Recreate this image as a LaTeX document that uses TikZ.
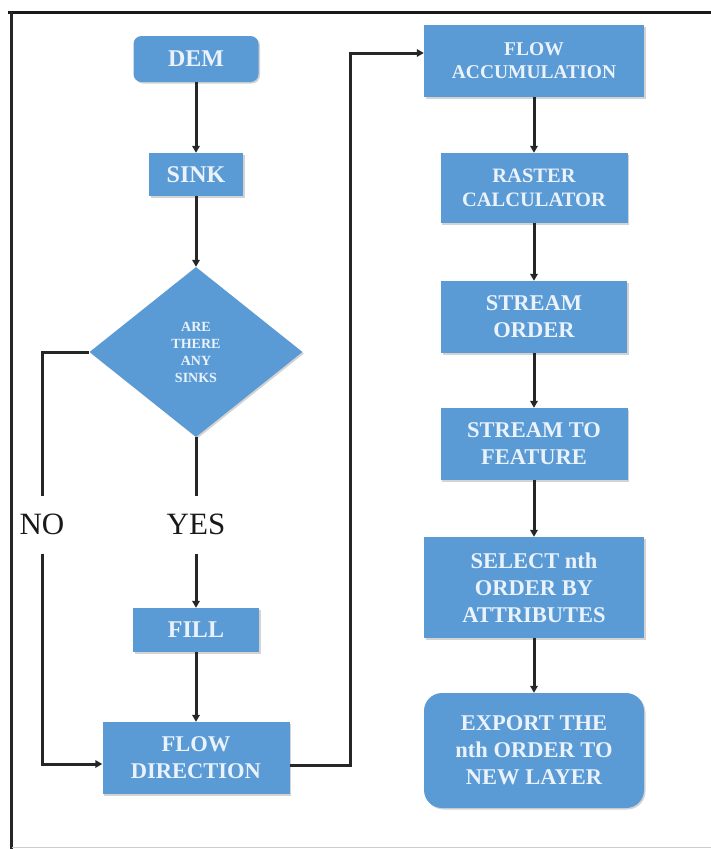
\documentclass[tikz,border=0pt]{standalone}
\usepackage{fontspec}
\setmainfont{Liberation Serif}
\usetikzlibrary{arrows.meta, shapes.geometric, shadows}
\definecolor{boxblue}{HTML}{5B9BD5}
\definecolor{boxtext}{HTML}{EAF2FB}
\tikzset{
  proc/.style={fill=boxblue, text=boxtext, align=center, inner sep=0pt,
    font=\bfseries\fontsize{22.5}{27}\selectfont,
    drop shadow={opacity=0.35, shadow xshift=1.5pt, shadow yshift=-1.5pt}},
  bigword/.style={font=\bfseries\fontsize{24}{28}\selectfont},
  decision/.style={proc, diamond, font=\bfseries\fontsize{14}{17}\selectfont},
  arrowline/.style={-{Triangle[length=7pt, width=7.5pt]}, line width=3pt, color=black!85},
  plainline/.style={line width=3pt, color=black!85},
  answer/.style={font=\fontsize{31}{34}\selectfont, text=black!90, inner sep=0pt}
}
\begin{document}
\begin{tikzpicture}[x=1pt, y=-1pt]
\useasboundingbox (0,0) rectangle (711,849);
% frame
\draw[line width=3pt, black!90] (8,12) -- (711,12);
\draw[line width=2.5pt, black!85] (11.5,12) -- (11.5,849);
\draw[line width=1.5pt, black!20] (11.5,847.5) -- (711,847.5);
% left column
\node[proc, bigword, rounded corners=8pt, minimum width=125pt, minimum height=46pt] (dem) at (196,59) {DEM};
\node[proc, bigword, minimum width=94pt, minimum height=43pt] (sink) at (196,174.5) {SINK};
\node[decision, minimum width=213pt, minimum height=170pt] (check) at (196,352) {ARE\\THERE\\ANY\\SINKS};
\node[answer] (no) at (42,524) {NO};
\node[answer] (yes) at (196,524) {YES};
\node[proc, bigword, minimum width=126pt, minimum height=44pt] (fill) at (196,630) {FILL};
\node[proc, minimum width=187pt, minimum height=72pt] (flowdir) at (196,758) {FLOW\\DIRECTION};
% right column
\node[proc, minimum width=220pt, minimum height=72pt, font=\bfseries\fontsize{19.5}{23}\selectfont] (flowacc) at (534,61) {FLOW\\ACCUMULATION};
\node[proc, minimum width=187pt, minimum height=70pt, font=\bfseries\fontsize{20.5}{23.5}\selectfont] (raster) at (534,188) {RASTER\\CALCULATOR};
\node[proc, minimum width=186pt, minimum height=72pt] (order) at (534,317) {STREAM\\ORDER};
\node[proc, minimum width=187pt, minimum height=72pt] (tofeat) at (534,444) {STREAM TO\\FEATURE};
\node[proc, minimum width=220pt, minimum height=101pt] (select) at (534,587.5) {SELECT nth\\ORDER BY\\ATTRIBUTES};
\node[proc, rounded corners=18pt, minimum width=220pt, minimum height=115pt] (export) at (534,750.5) {EXPORT THE\\nth ORDER TO\\NEW LAYER};
% connectors
\draw[arrowline] (dem) -- (sink);
\draw[arrowline] (sink) -- (check);
\draw[plainline] (check.south) -- ([yshift=17pt]yes.north);
\draw[arrowline] ([yshift=-19pt]yes.south) -- (fill);
\draw[arrowline] (fill) -- (flowdir);
\draw[plainline] (check.west) -| ([yshift=17pt]no.north);
\draw[arrowline] ([yshift=-19pt]no.south) |- ([yshift=-6pt]flowdir.west);
\draw[arrowline] ([yshift=-7pt]flowdir.east) -- ++(61,0) |- ([yshift=8pt]flowacc.west);
\draw[arrowline] (flowacc) -- (raster);
\draw[arrowline] (raster) -- (order);
\draw[arrowline] (order) -- (tofeat);
\draw[arrowline] (tofeat) -- (select);
\draw[arrowline] (select) -- (export);
\end{tikzpicture}
\end{document}
